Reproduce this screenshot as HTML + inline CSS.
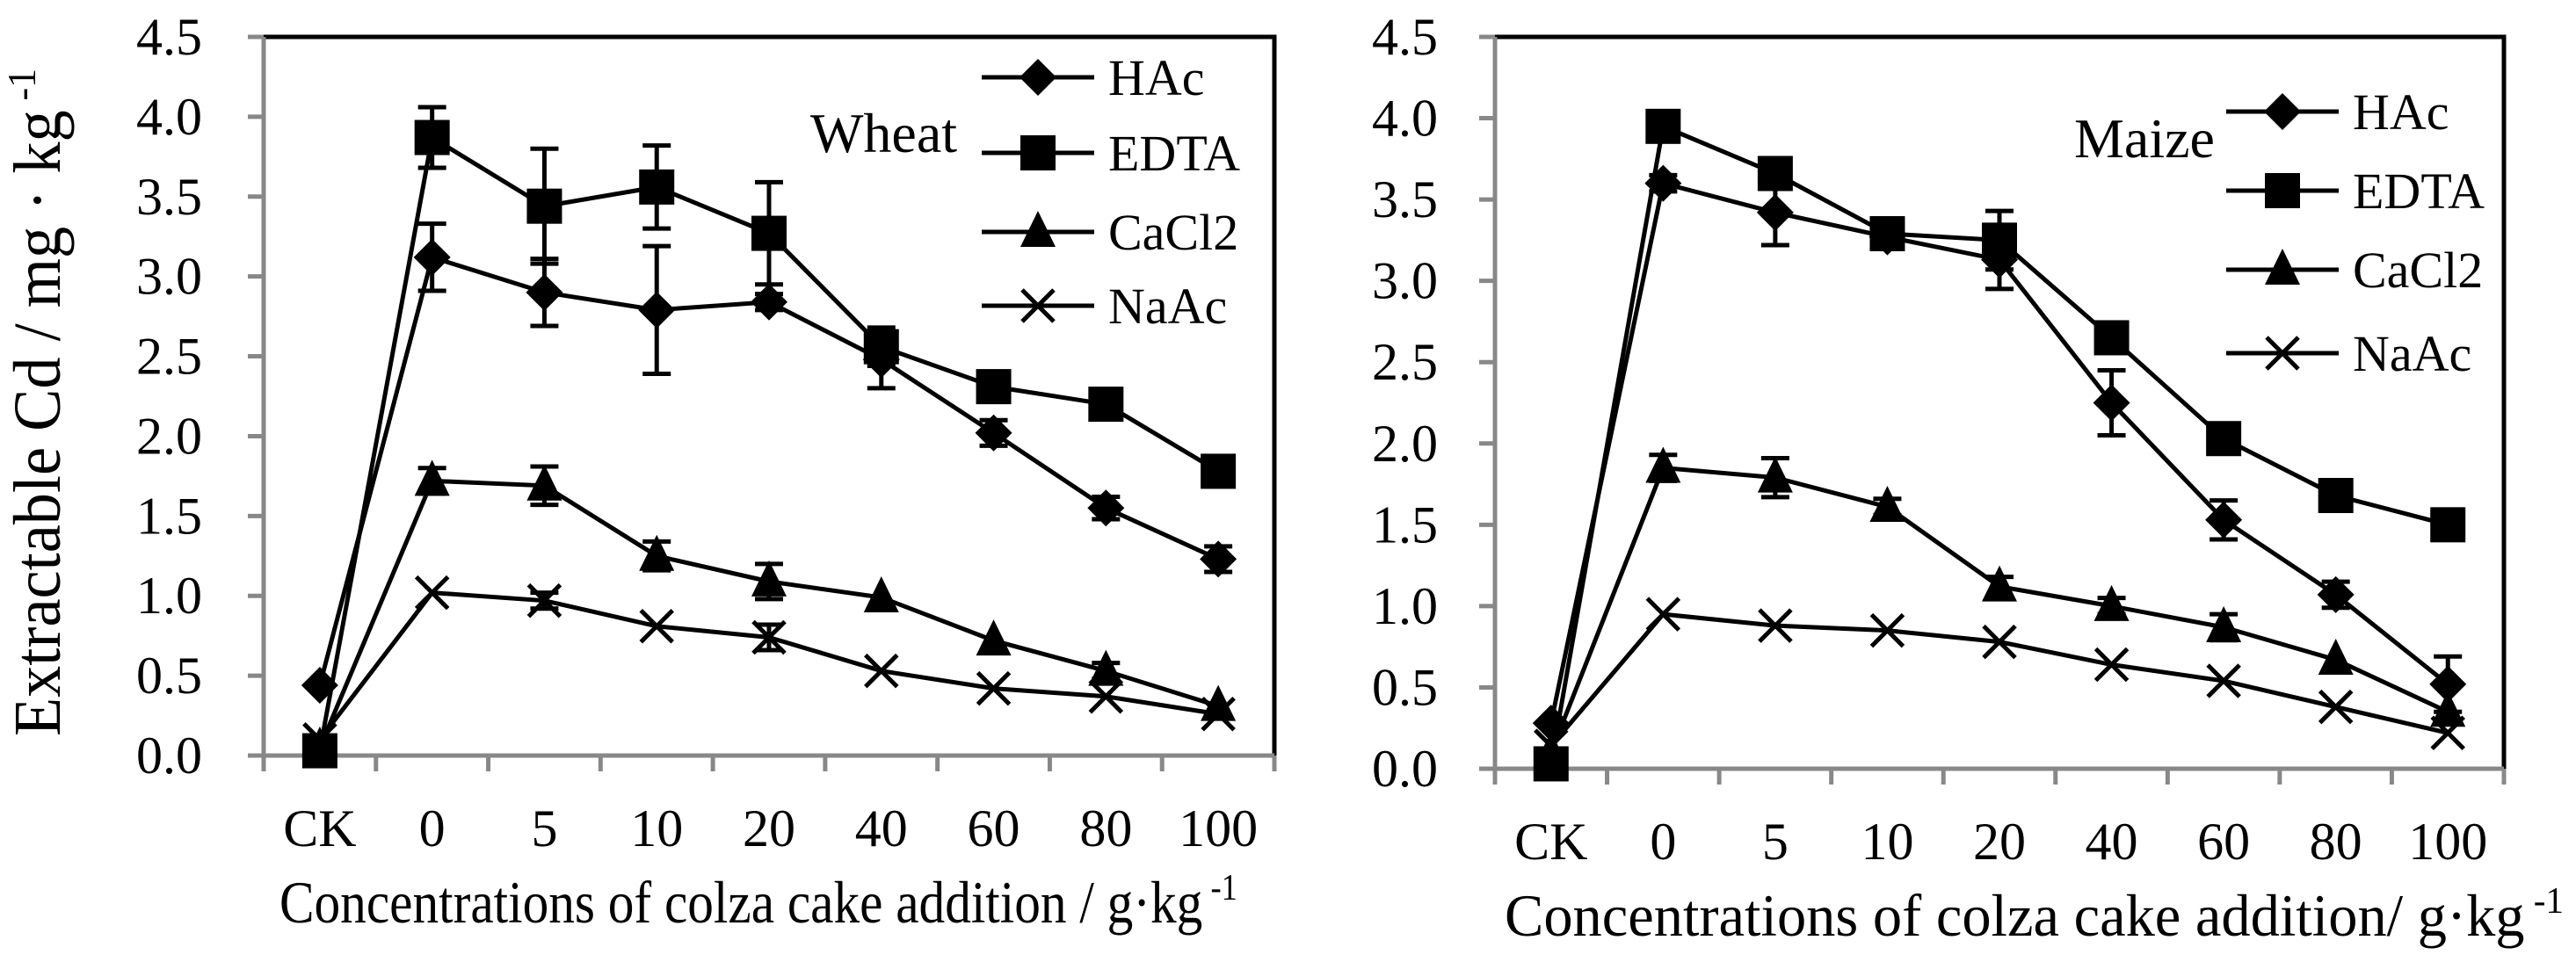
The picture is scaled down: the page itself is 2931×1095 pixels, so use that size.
<!DOCTYPE html>
<html><head><meta charset="utf-8"><style>
html,body{margin:0;padding:0;background:#fff;}
svg{display:block;font-family:"Liberation Serif",serif;}
text{font-family:"Liberation Serif",serif;}
</style></head><body>
<svg id="fig" width="2931" height="1095" viewBox="0 0 2931 1095" xmlns="http://www.w3.org/2000/svg" font-family="Liberation Serif, serif"></svg>
<script>
const categories = ["CK","0","5","10","20","40","60","80","100"];
const yTicks = [0,0.5,1,1.5,2,2.5,3,3.5,4,4.5];
const seriesNames = ["HAc","EDTA","CaCl2","NaAc"];
// Wheat
const wheatHAc   = [0.44,3.12,2.90,2.79,2.84,2.48,2.02,1.55,1.23];
const wheatEDTA  = [0.03,3.87,3.44,3.56,3.27,2.56,2.31,2.20,1.78];
const wheatCaCl2 = [0.05,1.72,1.69,1.25,1.09,0.99,0.72,0.53,0.31];
const wheatNaAc  = [0.10,1.02,0.97,0.81,0.74,0.53,0.42,0.37,0.26];
const wheatHAcErr   = [0.03,0.21,0.21,0.40,0.05,0.18,0.08,0.07,0.08];
const wheatEDTAErr  = [0.03,0.19,0.36,0.26,0.32,0.12,0.05,0.04,0.09];
const wheatCaCl2Err = [0.02,0.08,0.12,0.09,0.11,0.03,0.03,0.05,0.03];
const wheatNaAcErr  = [0.02,0.03,0.05,0.03,0.08,0.02,0.02,0.02,0.02];
// Maize
const maizeHAc   = [0.28,3.60,3.42,3.27,3.13,2.25,1.53,1.07,0.52];
const maizeEDTA  = [0.03,3.95,3.66,3.29,3.25,2.65,2.03,1.68,1.50];
const maizeCaCl2 = [0.10,1.85,1.79,1.61,1.12,1.00,0.87,0.67,0.35];
const maizeNaAc  = [0.14,0.95,0.88,0.85,0.78,0.64,0.54,0.38,0.22];
const maizeHAcErr   = [0.03,0.05,0.20,0.05,0.18,0.20,0.12,0.08,0.17];
const maizeEDTAErr  = [0.02,0.03,0.04,0.04,0.18,0.04,0.04,0.03,0.03];
const maizeCaCl2Err = [0.02,0.08,0.12,0.05,0.06,0.05,0.08,0.04,0.04];
const maizeNaAcErr  = [0.02,0.02,0.04,0.03,0.02,0.02,0.02,0.02,0.02];

const NS="http://www.w3.org/2000/svg";
const svg=document.getElementById('fig');
function mk(tag,attrs,parent){const e=document.createElementNS(NS,tag);for(const k in attrs)e.setAttribute(k,attrs[k]);(parent||svg).appendChild(e);return e;}

function drawChart(cfg){
  const g=mk('g',{});
  
  
  const L=cfg.left,R=cfg.right,T=cfg.top,B=cfg.bottom;
  const n=categories.length;
  const bw=(R-L)/n;
  const xs=i=>L+bw*(i+0.5);
  const ys=v=>B-(v/4.5)*(B-T);
  const fr=mk('path',{d:`M${L} ${T} L${R} ${T} L${R} ${B}`,fill:'none',stroke:'#000','stroke-width':5},g);
  
  
  const ya=mk('line',{x1:L,y1:T,x2:L,y2:B+18,stroke:'#888','stroke-width':5},g);
  
  
  const xa=mk('line',{x1:L-18,y1:B,x2:R,y2:B,stroke:'#888','stroke-width':5},g);
  
  
  yTicks.forEach(v=>{
    mk('line',{x1:L-18,y1:ys(v),x2:L,y2:ys(v),stroke:'#888','stroke-width':5},g);
    const t=mk('text',{x:cfg.ylabX,y:ys(v)+20,'font-size':60,'text-anchor':'end'},g);
    t.textContent=v.toFixed(1);
    
    
  });
  for(let i=1;i<=n;i++){mk('line',{x1:L+bw*i,y1:B,x2:L+bw*i,y2:B+18,stroke:'#888','stroke-width':5},g);}
  categories.forEach((c,i)=>{
    const t=mk('text',{x:xs(i),y:B+103,'font-size':60,'text-anchor':'middle'},g);
    t.textContent=c;
    
    
  });
  const xt=mk('text',{x:cfg.xtX,y:B+190,'font-size':68,textLength:cfg.xtLen,lengthAdjust:'spacingAndGlyphs'},g);
  xt.innerHTML=cfg.xtitle+'<tspan dy="-26" font-size="42"> -1</tspan>';
  
  
  const data=[cfg.hac,cfg.edta,cfg.cacl2,cfg.naac];
  const errs=[cfg.hacE,cfg.edtaE,cfg.cacl2E,cfg.naacE];
  data.forEach((arr,s)=>{
    const sg=mk('g',{},g);
    
    
    mk('polyline',{points:arr.map((v,i)=>xs(i)+','+ys(v)).join(' '),fill:'none',stroke:'#000','stroke-width':5},sg);
    arr.forEach((v,i)=>{
      const e=errs[s][i];
      if(e>0.04){
        const x=xs(i);
        mk('path',{d:`M${x} ${ys(v+e)} L${x} ${ys(v-e)} M${x-16} ${ys(v+e)} L${x+16} ${ys(v+e)} M${x-16} ${ys(v-e)} L${x+16} ${ys(v-e)}`,stroke:'#000','stroke-width':5,fill:'none'},sg);
      }
      const m=marker(s,xs(i),ys(v),sg);
      
      
    });
  });
  const lb=mk('text',{x:cfg.labelX,y:cfg.labelY,'font-size':64},g);
  lb.textContent=cfg.label;
  
  
  seriesNames.forEach((nm,s)=>{
    const ly=cfg.legY[s];
    const lg=mk('g',{},g);
    
    
    mk('line',{x1:cfg.legX,y1:ly,x2:cfg.legX+128,y2:ly,stroke:'#000','stroke-width':5},lg);
    marker(s,cfg.legX+64,ly,lg);
    const t=mk('text',{x:cfg.legX+144,y:ly+20,'font-size':58},lg);
    t.textContent=nm;
  });
}
function marker(s,x,y,p){
  if(s===0) return mk('path',{d:`M${x} ${y-21} L${x+21} ${y} L${x} ${y+21} L${x-21} ${y} Z`,fill:'#000'},p);
  if(s===1) return mk('rect',{x:x-20,y:y-20,width:40,height:40,fill:'#000'},p);
  if(s===2) return mk('path',{d:`M${x} ${y-24} L${x+20} ${y+17} L${x-20} ${y+17} Z`,fill:'#000'},p);
  return mk('path',{d:`M${x-18} ${y-18} L${x+18} ${y+18} M${x+18} ${y-18} L${x-18} ${y+18}`,stroke:'#000','stroke-width':5},p);
}
drawChart({name:'wheat-chart',left:300,right:1450,top:42,bottom:860,ylabX:230,
  xtitle:'Concentrations of colza cake addition / g·kg',xtX:318,xtLen:1090,
  hac:wheatHAc,edta:wheatEDTA,cacl2:wheatCaCl2,naac:wheatNaAc,
  hacE:wheatHAcErr,edtaE:wheatEDTAErr,cacl2E:wheatCaCl2Err,naacE:wheatNaAcErr,
  label:'Wheat',labelX:922,labelY:173,legX:1117,legY:[88,174,264,348]});
drawChart({name:'maize-chart',left:1701,right:2849,top:42,bottom:875,ylabX:1636,
  xtitle:'Concentrations of colza cake addition/ g·kg',xtX:1712,xtLen:1205,
  hac:maizeHAc,edta:maizeEDTA,cacl2:maizeCaCl2,naac:maizeNaAc,
  hacE:maizeHAcErr,edtaE:maizeEDTAErr,cacl2E:maizeCaCl2Err,naacE:maizeNaAcErr,
  label:'Maize',labelX:2360,labelY:179,legX:2533,legY:[127,217,307,402]});
const yt=mk('text',{transform:'translate(68,838) rotate(-90)','font-size':76,textLength:760,lengthAdjust:'spacingAndGlyphs'});
yt.innerHTML='Extractable Cd / mg · kg<tspan dy="-28" font-size="46"> -1</tspan>';


</script>
</body></html>
